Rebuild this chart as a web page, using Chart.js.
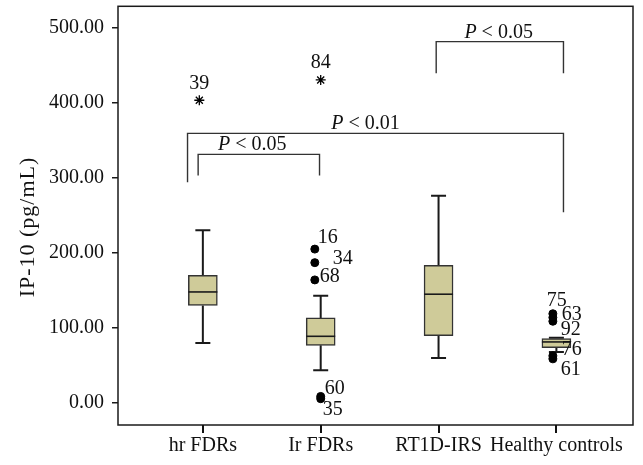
<!DOCTYPE html>
<html><head><meta charset="utf-8">
<script src="https://cdn.jsdelivr.net/npm/chart.js@4/dist/chart.umd.min.js"></script>
<style>html,body{margin:0;padding:0;background:#fff}#wrap{width:643px;height:465px;position:relative}canvas{display:block}</style>
</head><body><div id="wrap"><canvas id="c" width="643" height="465" style="width:643px;height:465px"></canvas></div>
<script>
// ---- data ----
const categories = ['hr FDRs', 'Ir FDRs', 'RT1D-IRS', 'Healthy controls'];
const whiskerLow  = [80, 44, 60, 68];
const q1          = [130, 77, 90, 74];
const median      = [148, 89, 145, 81.5];
const q3          = [170, 113.5, 183.5, 86];
const whiskerHigh = [230, 143, 276, 87];

// mild outliers (circles): x position (group index, slight jitter), value, case id
const outlierX     = [1.95, 1.95, 1.95, 2.0, 2.0, 3.97, 3.97, 3.97, 3.97, 3.97];
const outlierValue = [205, 187, 164, 9, 6, 119, 114, 109, 63, 59];
const outlierId    = ['16', '34', '68', '60', '35', '75', '63', '92', '76', '61'];

// extreme outliers (stars)
const extremeX     = [0.97, 2.0];
const extremeValue = [403, 430];
const extremeId    = ['39', '84'];

const yTicks = [0, 100, 200, 300, 400, 500];

// significance brackets (x in group units, y in pg/mL)
const bracketFrom   = [2.98, 0.87, 0.96];
const bracketTo     = [4.06, 4.06, 1.99];
const bracketTop    = [481, 359, 331];
const bracketLeftY  = [439, 294, 303];
const bracketRightY = [439, 254, 303];
const bracketLabelX = [3.51, 2.38, 1.42];
const bracketP      = ['0.05', '0.01', '0.05'];

// ---- styles ----
const FONT = '"Liberation Serif", "DejaVu Serif", serif';
const FS = 20;
const BOX_FILL = '#CFCB99';
const LINE = '#1a1a1a';
// label offsets (px) relative to the point: [dx, dy, align]
const labelOffset = {
  '16': [3, -11, 'left'], '34': [18, -4, 'left'], '68': [5, -3, 'left'],
  '60': [4, -8, 'left'], '35': [2, 11, 'left'],
  '75': [4, -13, 'center'], '63': [9, -3, 'left'], '92': [8, 8, 'left'],
  '76': [9, -6, 'left'], '61': [8, 11, 'left'],
  '39': [0, -17, 'center'], '84': [0, -17, 'center']
};

const boxData = categories.map((c, i) => ({ x: i + 1, y: [q1[i], q3[i]] }));
const outData = outlierValue.map((v, i) => ({ x: outlierX[i], y: v }));
const extData = extremeValue.map((v, i) => ({ x: extremeX[i], y: v }));

const bracketSets = bracketFrom.map((f, i) => ({
  type: 'line',
  data: [
    { x: f, y: bracketLeftY[i] }, { x: f, y: bracketTop[i] },
    { x: bracketTo[i], y: bracketTop[i] }, { x: bracketTo[i], y: bracketRightY[i] }
  ],
  borderColor: '#333', borderWidth: 1.4, pointRadius: 0, tension: 0, fill: false
}));

const boxPlugin = {
  id: 'boxplot',
  beforeDatasetsDraw(chart) {
    const { ctx, scales: { x, y } } = chart;
    ctx.save();
    ctx.strokeStyle = LINE; ctx.lineWidth = 2;
    categories.forEach((c, i) => {
      const px = x.getPixelForValue(i + 1);
      const cap = 7.5;
      ctx.beginPath();
      ctx.moveTo(px, y.getPixelForValue(q3[i])); ctx.lineTo(px, y.getPixelForValue(whiskerHigh[i]));
      ctx.moveTo(px - cap, y.getPixelForValue(whiskerHigh[i])); ctx.lineTo(px + cap, y.getPixelForValue(whiskerHigh[i]));
      ctx.moveTo(px, y.getPixelForValue(q1[i])); ctx.lineTo(px, y.getPixelForValue(whiskerLow[i]));
      ctx.moveTo(px - cap, y.getPixelForValue(whiskerLow[i])); ctx.lineTo(px + cap, y.getPixelForValue(whiskerLow[i]));
      ctx.stroke();
    });
    ctx.restore();
  },
  afterDatasetsDraw(chart) {
    const { ctx, chartArea: a, scales: { x, y } } = chart;
    ctx.save();
    // medians
    ctx.strokeStyle = LINE; ctx.lineWidth = 1.6;
    categories.forEach((c, i) => {
      const px = x.getPixelForValue(i + 1);
      const py = y.getPixelForValue(median[i]);
      ctx.beginPath(); ctx.moveTo(px - 14.5, py); ctx.lineTo(px + 14.5, py); ctx.stroke();
    });
    // point labels
    ctx.fillStyle = '#111'; ctx.font = FS + 'px ' + FONT; ctx.textBaseline = 'middle';
    const drawLab = (id, xv, yv) => {
      const o = labelOffset[id] || [4, 0, 'left'];
      ctx.textAlign = o[2];
      ctx.fillText(id, x.getPixelForValue(xv) + o[0], y.getPixelForValue(yv) + o[1]);
    };
    outlierId.forEach((id, i) => drawLab(id, outlierX[i], outlierValue[i]));
    extremeId.forEach((id, i) => drawLab(id, extremeX[i], extremeValue[i]));
    // bracket labels
    ctx.textBaseline = 'alphabetic';
    bracketP.forEach((p, i) => {
      const cx = x.getPixelForValue(bracketLabelX[i]);
      const by = y.getPixelForValue(bracketTop[i]) - 4;
      ctx.font = 'italic ' + FS + 'px ' + FONT;
      const w1 = ctx.measureText('P').width;
      ctx.font = FS + 'px ' + FONT;
      const rest = ' < ' + p;
      const w2 = ctx.measureText(rest).width;
      const sx = cx - (w1 + w2) / 2;
      ctx.textAlign = 'left';
      ctx.font = 'italic ' + FS + 'px ' + FONT; ctx.fillText('P', sx, by);
      ctx.font = FS + 'px ' + FONT; ctx.fillText(rest, sx + w1, by);
    });
    // frame
    ctx.strokeStyle = LINE; ctx.lineWidth = 1.5;
    ctx.strokeRect(a.left, a.top, a.right - a.left, a.bottom - a.top);
    // y title
    ctx.translate(28, 227); ctx.rotate(-Math.PI / 2);
    ctx.textAlign = 'center'; ctx.textBaseline = 'middle';
    ctx.font = '22px ' + FONT;
    try { ctx.letterSpacing = '1px'; } catch (e) {}
    ctx.fillStyle = '#111';
    ctx.fillText('IP-10 (pg/mL)', 0, 0);
    ctx.restore();
  },
  afterDraw(chart) {
    const { ctx, chartArea: a, scales: { x } } = chart;
    ctx.save();
    ctx.fillStyle = '#111';
    for (let i = 0; i < categories.length; i++) {
      const px = Math.round(x.getPixelForValue(i + 1));
      ctx.fillRect(px - 1, Math.round(a.bottom), 2, 8);
    }
    ctx.restore();
  }
};

new Chart(document.getElementById('c'), {
  type: 'bar',
  data: {
    datasets: [
      { type: 'bar', data: boxData, backgroundColor: BOX_FILL, borderColor: '#333', borderWidth: 1.5,
        borderSkipped: false, barThickness: 29, order: 2 },
      { type: 'scatter', data: outData, backgroundColor: '#000', borderColor: '#000', pointRadius: 4, order: 1 },
      { type: 'scatter', data: extData, pointStyle: 'star', borderColor: '#000', borderWidth: 1.3, pointRadius: 5, order: 1 },
      ...bracketSets
    ]
  },
  options: {
    responsive: false, maintainAspectRatio: false, animation: false, devicePixelRatio: 1,
    layout: { padding: { top: 6, right: 10, left: 0, bottom: 0 } },
    plugins: { legend: { display: false }, tooltip: { enabled: false } },
    scales: {
      x: {
        type: 'linear', min: 0.28, max: 4.65, offset: false,
        afterBuildTicks: s => { s.ticks = categories.map((c, i) => ({ value: i + 1 })); },
        afterFit: s => { s.height = 40; s.paddingLeft = 0; s.paddingRight = 0; },
        ticks: { callback: v => categories[v - 1], color: '#111', font: { family: FONT, size: FS }, padding: 9, maxRotation: 0, autoSkip: false },
        grid: { display: false, drawTicks: false },
        border: { display: false }
      },
      y: {
        min: -29, max: 528,
        afterBuildTicks: s => { s.ticks = yTicks.map(v => ({ value: v })); },
        afterFit: s => { s.width = 118; s.paddingTop = 0; s.paddingBottom = 0; },
        ticks: { callback: v => Number(v).toFixed(2), color: '#111', font: { family: FONT, size: FS }, padding: 8 },
        grid: { drawOnChartArea: false, drawTicks: true, tickLength: 6, color: LINE, lineWidth: 1.5 },
        border: { display: false }
      }
    }
  },
  plugins: [boxPlugin]
});
</script></body></html>
